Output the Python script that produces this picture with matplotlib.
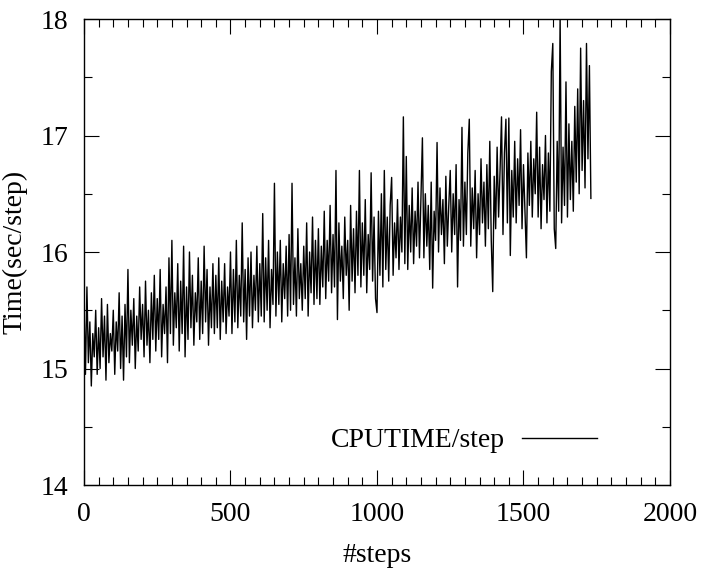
import numpy as np
import matplotlib
matplotlib.use("Agg")
import matplotlib.pyplot as plt
from matplotlib.ticker import MultipleLocator

# CPU time per step, every 5 steps
STEP = 5
cputime = [
    15.55, 14.95, 15.70, 15.05, 15.40, 14.85, 15.30, 15.10, 15.50, 14.95,
    15.35, 15.00, 15.60, 15.10, 15.45, 14.90, 15.55, 15.05, 15.30, 15.15,
    15.50, 14.95, 15.40, 15.15, 15.65, 15.00, 15.45, 14.90, 15.55, 15.10,
    15.85, 15.05, 15.50, 15.20, 15.60, 15.00, 15.45, 15.15, 15.70, 15.25,
    15.55, 15.10, 15.75, 15.20, 15.50, 15.05, 15.65, 15.25, 15.80, 15.15,
    15.60, 15.25, 15.85, 15.10, 15.55, 15.30, 15.70, 15.05, 15.95, 15.30,
    16.10, 15.20, 15.65, 15.35, 15.90, 15.15, 15.75, 15.30, 16.05, 15.10,
    15.70, 15.25, 16.00, 15.35, 15.80, 15.20, 15.65, 15.40, 15.95, 15.25,
    15.75, 15.30, 16.05, 15.40, 15.85, 15.20, 15.70, 15.35, 15.90, 15.30,
    15.80, 15.35, 15.95, 15.25, 15.75, 15.40, 15.90, 15.30, 15.70, 15.45,
    16.00, 15.30, 15.85, 15.40, 16.10, 15.35, 15.80, 15.45, 16.25, 15.40,
    15.85, 15.25, 15.95, 15.45, 16.00, 15.35, 15.80, 15.50, 16.05, 15.40,
    15.90, 15.45, 16.33, 15.40, 15.95, 15.50, 16.10, 15.35, 15.85, 15.55,
    16.59, 15.45, 16.00, 15.55, 16.10, 15.40, 15.90, 15.60, 16.05, 15.45,
    16.15, 15.50, 16.59, 15.55, 15.95, 15.45, 16.20, 15.60, 15.90, 15.50,
    16.05, 15.60, 16.25, 15.45, 16.00, 15.65, 16.30, 15.55, 16.10, 15.60,
    16.20, 15.55, 16.05, 15.70, 16.35, 15.60, 16.10, 15.75, 16.40, 15.65,
    16.15, 15.70, 16.70, 15.42, 16.25, 15.75, 16.05, 15.60, 16.30, 15.80,
    16.10, 15.50, 16.40, 15.75, 16.20, 15.65, 16.35, 15.80, 16.70, 15.70,
    16.25, 15.80, 16.45, 15.65, 16.15, 15.85, 16.68, 15.75, 16.30, 15.60,
    15.48, 16.35, 15.80, 16.50, 15.70, 16.70, 15.85, 16.30, 15.75, 16.40,
    16.64, 15.80, 16.25, 15.95, 16.45, 15.85, 16.30, 16.00, 17.16, 15.90,
    16.82, 15.85, 16.40, 16.00, 16.55, 15.90, 16.35, 16.05, 16.60, 15.95,
    16.45, 16.98, 15.95, 16.50, 16.05, 16.40, 15.85, 16.60, 15.69, 16.35,
    16.10, 16.94, 16.00, 16.55, 16.15, 16.45, 15.90, 16.65, 16.05, 16.40,
    16.70, 16.00, 16.50, 16.15, 16.75, 15.70, 16.45, 16.10, 17.07, 16.05,
    16.60, 16.15, 16.85, 17.14, 16.05, 16.55, 16.20, 16.70, 15.95, 16.50,
    16.15, 16.80, 16.25, 16.60, 16.05, 16.75, 16.20, 16.95, 16.10, 15.66,
    16.65, 16.20, 16.90, 16.30, 16.70, 17.16, 16.15, 16.85, 17.14, 16.25,
    17.15, 15.97, 16.70, 16.30, 16.95, 16.25, 16.80, 16.40, 17.05, 16.20,
    16.75, 16.35, 15.95, 16.85, 16.40, 16.95, 16.30, 16.80, 16.50, 17.20,
    16.30, 16.90, 16.20, 16.75, 16.45, 17.00, 16.25, 16.85, 16.35, 17.55,
    17.79, 16.20, 16.03, 16.95, 16.35, 18.02, 16.25, 16.90, 16.40, 17.46,
    16.30, 17.10, 16.45, 16.95, 16.35, 17.25, 16.60, 17.40, 16.50, 17.75,
    16.70, 17.30, 16.55, 17.79, 16.80, 17.60, 16.46,
]
steps = np.arange(len(cputime)) * STEP

x_ticks = [0, 500, 1000, 1500, 2000]
y_ticks = [14, 15, 16, 17, 18]

plt.rcParams['font.family'] = ['Liberation Serif', 'DejaVu Serif']
FS = 20

fig = plt.figure(figsize=(7.04, 5.69), dpi=100)
ax = fig.add_axes([0.1193, 0.1476, 0.8324, 0.819])

ax.plot(steps, cputime, color='black', lw=1.0, label='CPUTIME/step')

ax.set_xlim(0, 2000)
ax.set_ylim(14, 18)
ax.set_xticks(x_ticks)
ax.set_yticks(y_ticks)
ax.xaxis.set_minor_locator(MultipleLocator(50))
ax.yaxis.set_minor_locator(MultipleLocator(0.5))
ax.tick_params(which='both', direction='in', top=True, right=True,
               labelsize=FS, width=0.8)
ax.tick_params(which='major', length=11)
ax.tick_params(which='minor', length=5.5)
ax.tick_params(axis='x', which='major', pad=12)
ax.tick_params(axis='y', which='major', pad=11)
for sp in ax.spines.values():
    sp.set_linewidth(1.0)

ax.set_xlabel('#steps', fontsize=FS, labelpad=12)
ax.set_ylabel('Time(sec/step)', fontsize=FS, labelpad=10)

ax.legend(loc='center right', bbox_to_anchor=(0.875, 0.095), frameon=False,
          markerfirst=False, fontsize=FS, handlelength=2.7,
          handletextpad=0.6, borderpad=0, borderaxespad=0)

fig.savefig('out.png', dpi=100)
